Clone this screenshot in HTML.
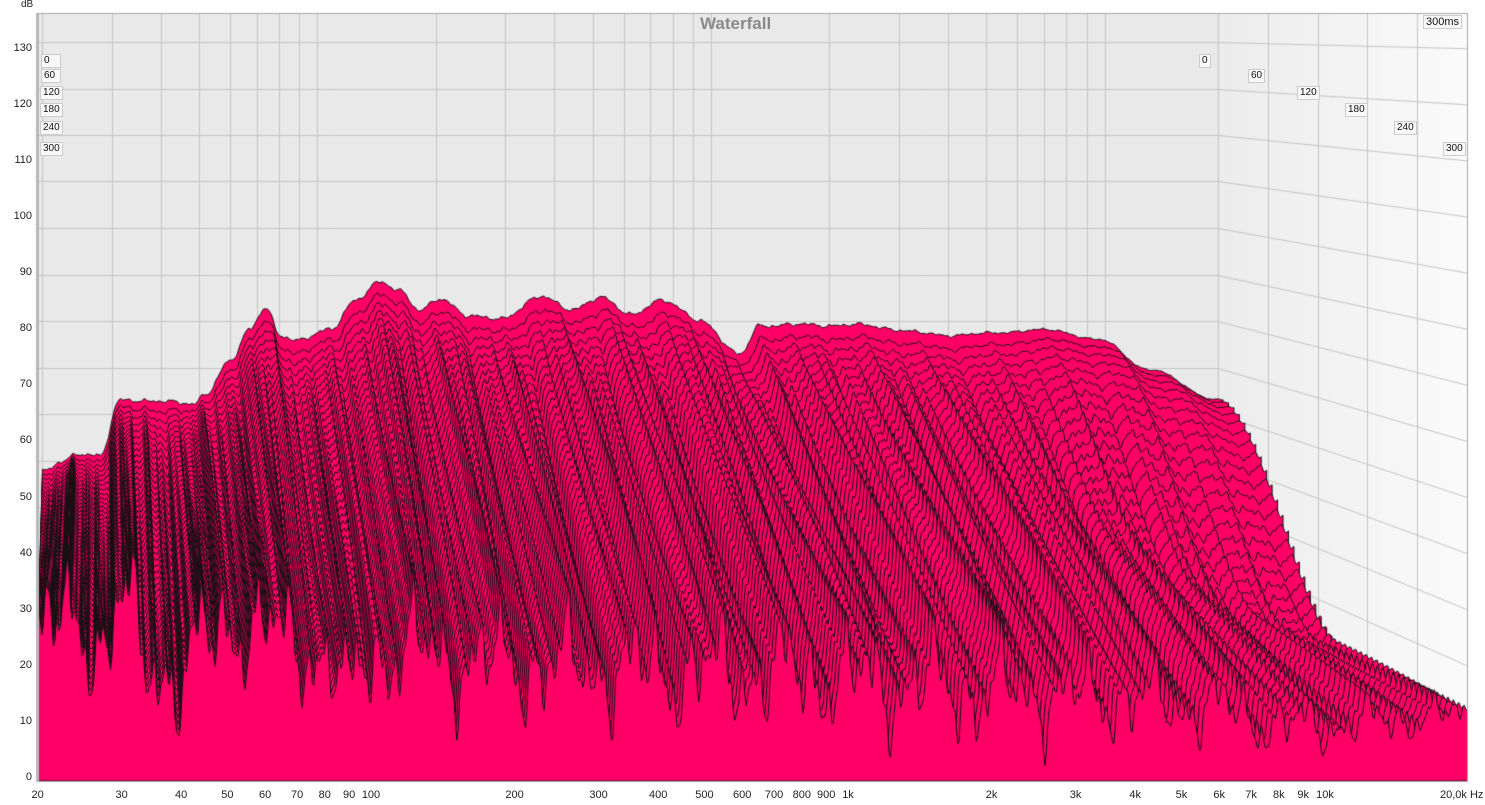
<!DOCTYPE html>
<html><head><meta charset="utf-8"><style>
body{margin:0;background:#fff;width:1485px;height:805px;overflow:hidden;position:relative;font-family:"Liberation Sans",sans-serif;}
canvas{position:absolute;left:0;top:0}
.l{position:absolute;font-size:11px;color:#222;}
.yl{position:absolute;font-size:11px;color:#222;width:30px;text-align:right;left:2px}
.tb{position:absolute;font-size:10px;background:#f8f8f8;border:1px solid #ccc;padding:0 2px;line-height:12px;color:#111}
</style></head><body>
<canvas id="c" width="1485" height="805"></canvas>
<div class="l" style="left:21px;top:-1px;font-size:10px">dB</div>
<div id="labels"></div>
<div style="position:absolute;left:700px;top:14px;font-size:17px;font-weight:bold;color:#8a8a8a">Waterfall</div>
<div class="tb" style="left:1423px;top:15px;font-size:11px">300ms</div>
<script>
const c=document.getElementById('c').getContext('2d');
const L=document.getElementById('labels');
const fx=f=>848+477*Math.log10(f/1000);
const bx=f=>11.4+0.825*fx(f);
const fy=d=>778-5.61*d, by=d=>646.5-4.65*d;
const invb=x=>1000*Math.pow(10,((x-11.4)/0.825-848)/477);
const invf=x=>1000*Math.pow(10,(x-848)/477);
let h='';
for(let d=0;d<=130;d+=10)h+=`<div class="yl" style="top:${fy(d)-7}px">${d}</div>`;
const ticks=[[20,'20'],[30,'30'],[40,'40'],[50,'50'],[60,'60'],[70,'70'],[80,'80'],[90,'90'],[100,'100'],[200,'200'],[300,'300'],[400,'400'],[500,'500'],[600,'600'],[700,'700'],[800,'800'],[900,'900'],[1000,'1k'],[2000,'2k'],[3000,'3k'],[4000,'4k'],[5000,'5k'],[6000,'6k'],[7000,'7k'],[8000,'8k'],[9000,'9k'],[10000,'10k']];
ticks.forEach(t=>{h+=`<div class="l" style="left:${fx(t[0])-12}px;width:24px;text-align:center;top:789px">${t[1]}</div>`});
h+=`<div class="l" style="left:1440px;top:789px">20,0k Hz</div>`;
const tl=[['0',54],['60',69],['120',86],['180',103],['240',121],['300',142]];
const tr=[1199,1248,1297,1345,1394,1443];
tl.forEach((t,i)=>{h+=`<div class="tb" style="left:${i<2?41:40}px;top:${t[1]}px;min-width:14px">${t[0]}</div>`;h+=`<div class="tb" style="left:${tr[i]}px;top:${t[1]}px">${t[0]}</div>`});
L.innerHTML=h;
c.fillStyle='#e9e9e9';c.fillRect(39,14,1179,767);
let g=c.createLinearGradient(1218,0,1467,0);g.addColorStop(0,'#ececec');g.addColorStop(1,'#fbfbfb');
c.fillStyle=g;c.fillRect(1218,14,249,767);
c.strokeStyle='#c4c4c4';c.lineWidth=1;
ticks.forEach(t=>{const x=Math.round(bx(t[0]))+.5;c.beginPath();c.moveTo(x,14);c.lineTo(x,780);c.stroke();});
[1218,1268,1318,1367,1417].forEach(x=>{c.beginPath();c.moveTo(x+.5,14);c.lineTo(x+.5,780);c.stroke();});
for(let d=0;d<=130;d+=10){c.beginPath();c.moveTo(39,Math.round(by(d))+.5);c.lineTo(1218,Math.round(by(d))+.5);c.lineTo(1467,fy(d));c.stroke();}
function interp(pts,f){const lf=Math.log10(f);if(lf<=Math.log10(pts[0][0]))return pts[0][1];for(let i=0;i<pts.length-1;i++){const a=Math.log10(pts[i][0]),b=Math.log10(pts[i+1][0]);if(lf<=b){const u=(lf-a)/(b-a);const s=(1-Math.cos(Math.PI*u))/2;return pts[i][1]+(pts[i+1][1]-pts[i][1])*s;}}return pts[pts.length-1][1];}
const B=[[44,470],[60,462],[80,455],[100,455],[120,400],[140,402],[165,400],[195,405],[205,395],[230,360],[250,330],[266,308],[280,335],[300,340],[330,330],[355,300],[380,283],[400,290],[420,310],[440,300],[470,315],[500,320],[540,296],[570,310],[600,297],[630,315],[660,300],[700,320],[740,355],[760,325],[850,325],[950,335],[1050,330],[1100,340],[1150,370],[1218,400]];
const P0=B.map(p=>[invb(p[0]),(646.5-p[1])/4.65]);
const F=[[39,640],[70,615],[90,630],[105,650],[122,600],[150,660],[181,680],[205,640],[230,620],[260,630],[300,640],[330,660],[348,697],[370,650],[400,650],[500,662],[650,668],[800,672],[900,682],[1000,690],[1100,695],[1200,705],[1300,725],[1463,715]];
const P1=F.map(p=>[invf(p[0]),(778-p[1])/5.61]);
function ripple(f,t){const l=Math.log10(f);let s=0;
s+=Math.sin(l*41+1.3+t*2)*1.0+Math.sin(l*97+0.4)*0.9+Math.sin(l*173+2.1+t*3)*0.7+Math.sin(l*311+t*5)*0.5+Math.sin(l*520+1+t*7)*0.3;
const low=f<1500?1:Math.max(0.35,1-(Math.log10(f)-3.18)*0.6);
return s*(1.6+6*t)*low*0.6;}
const ss=u=>u*u*(3-2*u);
const N=46,NS=1000;
c.save();c.beginPath();c.rect(39,14,1428,767);c.clip();
for(let k=0;k<N;k++){const t=k/(N-1);
 c.beginPath();let first=true,lx=0,ly=0;
 for(let i=0;i<=NS;i++){const f=20*Math.pow(1000,i/NS);
  const base=interp(P0,f),end=interp(P1,f);
  const lf=Math.log10(f);
  const w=Math.min(1,Math.max(0,(lf-3.6)/0.7));
  const gt=(1-w)*Math.pow(t,0.8)+w*ss(Math.min(1,t/0.5));
  let d=base+(end-base)*gt+ripple(f,t)*Math.min(1,0.25+gt*3);
  if(d<2)d=2;
  const x=bx(f)+(fx(f)-bx(f))*t, y=by(d)+(fy(d)-by(d))*t;
  if(first){c.moveTo(x,781);c.lineTo(x,y);first=false;}else c.lineTo(x,y);lx=x;ly=y;}
 c.lineTo(lx,781);c.closePath();
 c.fillStyle='#ff0066';c.fill();
 c.strokeStyle='#111';c.lineWidth=1;c.stroke();}
c.restore();
c.strokeStyle='#a8a8a8';c.lineWidth=1;c.strokeRect(38.5,13.5,1429,768);
c.fillStyle='#b8b8b8';c.fillRect(36,13,3,769);
</script>
</body></html>
